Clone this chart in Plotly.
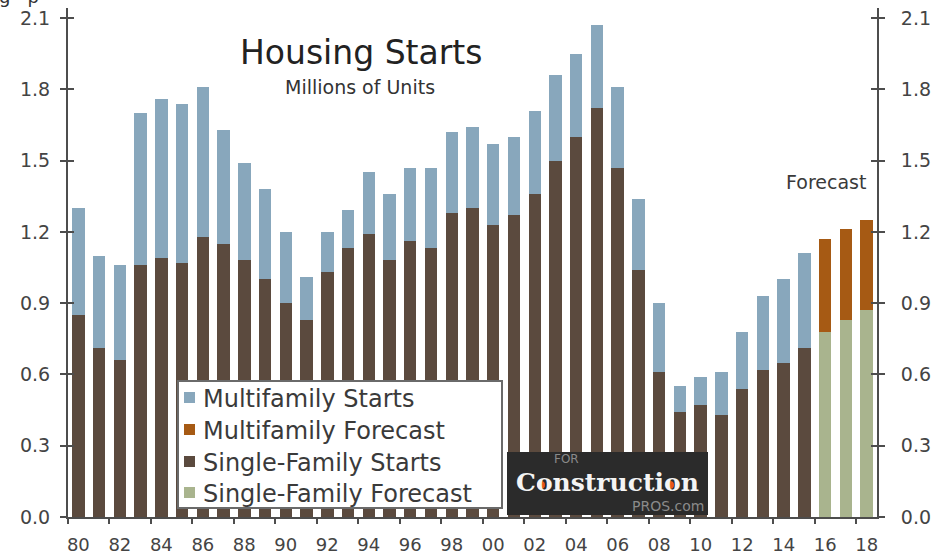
import plotly.graph_objects as go

years = list(range(1980, 2016))
single_family = [0.85, 0.71, 0.66, 1.06, 1.09, 1.07, 1.18, 1.15, 1.08, 1.00,
                 0.90, 0.83, 1.03, 1.13, 1.19, 1.08, 1.16, 1.13, 1.28, 1.30,
                 1.23, 1.27, 1.36, 1.50, 1.60, 1.72, 1.47, 1.04, 0.61, 0.44,
                 0.47, 0.43, 0.54, 0.62, 0.65, 0.71]
multifamily = [0.45, 0.39, 0.40, 0.64, 0.67, 0.67, 0.63, 0.48, 0.41, 0.38,
               0.30, 0.18, 0.17, 0.16, 0.26, 0.28, 0.31, 0.34, 0.34, 0.34,
               0.34, 0.33, 0.35, 0.36, 0.35, 0.35, 0.34, 0.30, 0.29, 0.11,
               0.12, 0.18, 0.24, 0.31, 0.35, 0.40]
forecast_years = [2016, 2017, 2018]
single_family_fc = [0.78, 0.83, 0.87]
multifamily_fc = [0.39, 0.38, 0.38]

tick_years = list(range(1980, 2019, 2))
tick_text = ["80", "82", "84", "86", "88", "90", "92", "94", "96", "98",
             "00", "02", "04", "06", "08", "10", "12", "14", "16", "18"]
minor_ticks = [1979.5 + 2 * k for k in range(20)]

C_MF = "#88a7bc"
C_MFF = "#a65a14"
C_SF = "#5b4a3e"
C_SFF = "#a9b48e"
AX = "#4d4d4d"
FONT = "DejaVu Sans"

W, H = 935, 556
L, R, T, B = 68, 58, 8, 39
PW, PH = W - L - R, H - T - B


def px(p):
    return (p - L) / PW


def py(p):
    return 1 - (p - T) / PH


fig = go.Figure()
fig.add_trace(go.Bar(x=years, y=single_family, marker_color=C_SF, name="Single-Family Starts"))
fig.add_trace(go.Bar(x=forecast_years, y=single_family_fc, marker_color=C_SFF, name="Single-Family Forecast"))
fig.add_trace(go.Bar(x=years, y=multifamily, marker_color=C_MF, name="Multifamily Starts"))
fig.add_trace(go.Bar(x=forecast_years, y=multifamily_fc, marker_color=C_MFF, name="Multifamily Forecast"))
fig.add_trace(go.Scatter(x=[2000], y=[0], yaxis="y2", mode="markers",
                         marker=dict(opacity=0), hoverinfo="skip", showlegend=False))

fig.update_traces(selector=dict(type="bar"), marker_line_width=0, width=0.6)

shapes = []
annotations = []

# legend box
shapes.append(dict(type="rect", xref="paper", yref="paper",
                   x0=px(178), x1=px(502), y0=py(381), y1=py(508),
                   fillcolor="white", line=dict(color="#6a6a6a", width=2)))
legend_items = [("Multifamily Starts", C_MF, 398),
                ("Multifamily Forecast", C_MFF, 430),
                ("Single-Family Starts", C_SF, 462),
                ("Single-Family Forecast", C_SFF, 493)]
for label, col, yc in legend_items:
    shapes.append(dict(type="rect", xref="paper", yref="paper",
                       x0=px(184), x1=px(195), y0=py(yc + 5), y1=py(yc - 6),
                       fillcolor=col, line=dict(width=0)))
    annotations.append(dict(text=label, xref="paper", yref="paper",
                            x=px(201), y=py(yc + 1), xanchor="left", yanchor="middle",
                            showarrow=False, font=dict(family=FONT, size=24, color="#3a3a3a")))

# logo box
shapes.append(dict(type="rect", xref="paper", yref="paper",
                   x0=px(507), x1=px(708), y0=py(515), y1=py(452),
                   fillcolor="#2b2b2b", line=dict(width=0)))
for cx in (541, 670):
    shapes.append(dict(type="circle", xref="paper", yref="paper",
                       x0=px(cx - 4), x1=px(cx + 4), y0=py(489), y1=py(481),
                       fillcolor="#e8541c", line=dict(width=0)))
annotations.append(dict(text="FOR", xref="paper", yref="paper", x=px(552), y=py(459),
                        xanchor="left", yanchor="middle", showarrow=False,
                        font=dict(family=FONT, size=12, color="#8a8a8a")))
annotations.append(dict(text="<b>Construction</b>", xref="paper", yref="paper", x=px(607), y=py(482),
                        xanchor="center", yanchor="middle", showarrow=False,
                        font=dict(family="DejaVu Serif", size=25, color="#f4f4f4")))
annotations.append(dict(text="PROS.com", xref="paper", yref="paper", x=px(706), y=py(506),
                        xanchor="right", yanchor="middle", showarrow=False,
                        font=dict(family=FONT, size=14, color="#8a8a8a")))

# titles
annotations.append(dict(text="Housing Starts", xref="paper", yref="paper", x=px(361), y=py(52),
                        xanchor="center", yanchor="middle", showarrow=False,
                        font=dict(family=FONT, size=33, color="#222222")))
annotations.append(dict(text="Millions of Units", xref="paper", yref="paper", x=px(360), y=py(87),
                        xanchor="center", yanchor="middle", showarrow=False,
                        font=dict(family=FONT, size=19, color="#333333")))
annotations.append(dict(text="Forecast", xref="paper", yref="paper", x=px(826), y=py(182),
                        xanchor="center", yanchor="middle", showarrow=False,
                        font=dict(family=FONT, size=19, color="#3a3a3a")))
# clipped fragment at top
annotations.append(dict(text="g   p", xref="paper", yref="paper", x=px(-3), y=py(9),
                        xanchor="left", yanchor="bottom", showarrow=False,
                        font=dict(family=FONT, size=18, color="#333333")))

tickfont = dict(family=FONT, size=19, color="#444444")

fig.update_layout(
    width=W, height=H,
    margin=dict(l=L, r=R, t=T, b=B),
    paper_bgcolor="white", plot_bgcolor="white",
    barmode="stack", showlegend=False,
    shapes=shapes, annotations=annotations,
    xaxis=dict(range=[1979.5, 2018.5], tickmode="array", tickvals=tick_years, ticktext=tick_text,
               ticks="outside", ticklen=10, tickcolor="rgba(0,0,0,0)", automargin=False,
               showline=True, linecolor=AX, linewidth=2, showgrid=False, zeroline=False,
               tickfont=dict(family=FONT, size=18, color="#444444"),
               minor=dict(tickmode="array", tickvals=minor_ticks, ticks="outside",
                          ticklen=5, tickcolor=AX, tickwidth=1.5)),
    yaxis=dict(range=[0, 2.142], tick0=0, dtick=0.3, tickformat=".1f", automargin=False,
               ticks="outside", ticklen=6, tickwidth=1.5, tickcolor=AX,
               showline=True, linecolor=AX, linewidth=2, mirror="allticks",
               showgrid=False, zeroline=False, ticklabelstandoff=6,
               tickfont=tickfont),
    yaxis2=dict(range=[0, 2.142], tick0=0, dtick=0.3, tickformat=".1f", overlaying="y", side="right",
                ticks="inside", ticklen=6, tickwidth=1.5, tickcolor=AX, automargin=False,
                showline=True, linecolor=AX, linewidth=2, mirror="allticks",
                showgrid=False, zeroline=False, ticklabelstandoff=18,
                tickfont=tickfont),
)

fig.write_html("out.html")
